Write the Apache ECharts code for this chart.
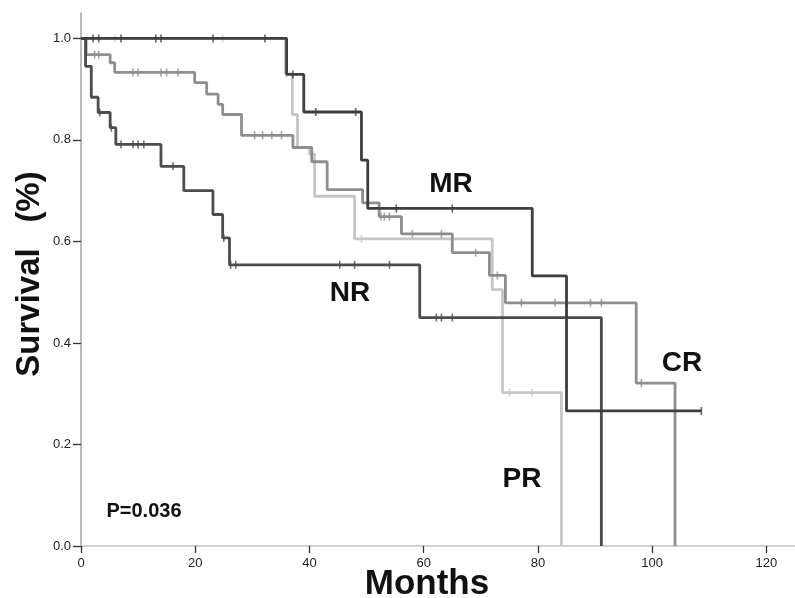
<!DOCTYPE html>
<html><head><meta charset="utf-8">
<script src="https://cdn.jsdelivr.net/npm/echarts@6/dist/echarts.min.js"></script>
<style>html,body{margin:0;padding:0;background:#fff}#c{width:795px;height:598px}</style>
</head><body><div id="c"></div>
<script>
// ---- data ----
const xTicks = [0, 20, 40, 60, 80, 100, 120];
const yTicks = [0, 0.2, 0.4, 0.6, 0.8, 1.0];
const groupNames = ['PR', 'CR', 'NR', 'MR'];

// step curves: [month, survival]
const mrCurve = [[0,1.0],[36.0,0.929],[39.0,0.855],[49.1,0.760],[50.2,0.665],[79.0,0.532],[85.0,0.266],[108.6,0.266]];
const crCurve = [[0,1.0],[0.9,0.968],[5.1,0.952],[5.9,0.933],[19.9,0.913],[22.0,0.890],[24.0,0.870],[24.8,0.850],[28.1,0.809],[37.1,0.785],[40.4,0.757],[43.1,0.702],[49.3,0.676],[52.2,0.649],[56.1,0.615],[65.0,0.578],[71.5,0.533],[74.3,0.479],[97.2,0.321],[104.0,0]];
const prCurve = [[0,1.0],[35.8,0.930],[37.0,0.850],[37.9,0.785],[40.0,0.772],[40.9,0.689],[47.9,0.605],[72.0,0.505],[73.8,0.302],[84.1,0]];
const nrCurve = [[0,1.0],[0.8,0.945],[1.8,0.884],[3.0,0.854],[5.1,0.824],[6.1,0.791],[14.0,0.748],[18.0,0.700],[23.1,0.653],[24.8,0.607],[26.0,0.554],[59.3,0.450],[91.1,0]];

// censored times (months)
const mrCensor = [2.1, 3.1, 7.0, 13.1, 14.0, 23.1, 32.2, 37.1, 41.1, 48.1, 55.2, 65.0, 108.6];
const crCensor = [2.4, 3.1, 9.1, 10.0, 14.0, 15.0, 17.0, 30.4, 31.8, 33.4, 35.1, 52.5, 53.1, 54.0, 58.0, 63.1, 69.1, 72.9, 77.1, 83.0, 89.2, 91.1, 98.1];
const prCensor = [5.9, 24.8, 36.0, 49.1, 75.0, 79.0];
const nrCensor = [3.3, 5.3, 7.0, 9.1, 10.0, 11.0, 16.1, 25.0, 26.2, 27.1, 45.3, 47.9, 54.0, 62.2, 63.1, 65.0];

// ---- helpers ----
function valueAt(curve, t) {
  let v = curve[0][1];
  for (const p of curve) { if (p[0] <= t) v = p[1]; else break; }
  return v;
}
const curves = {MR: mrCurve, CR: crCurve, PR: prCurve, NR: nrCurve};
const censors = {MR: mrCensor, CR: crCensor, PR: prCensor, NR: nrCensor};
const colors = {MR: '#3e3e3e', CR: '#8e8e8e', PR: '#c6c6c6', NR: '#4c4c4c'};

const series = [];
groupNames.forEach((g, i) => {
  series.push({
    name: g, type: 'line', step: 'end', data: curves[g], symbol: 'none',
    lineStyle: {color: colors[g], width: 2.8}, z: 2 + i * 2, silent: true
  });
  series.push({
    name: g + ' censored', type: 'scatter',
    data: censors[g].map(t => [t, valueAt(curves[g], t)]),
    symbol: 'rect', symbolSize: [1.6, 8],
    itemStyle: {color: colors[g]}, z: 3 + i * 2, silent: true
  });
});

const font = 'Liberation Sans, Arial, Helvetica, sans-serif';
const chart = echarts.init(document.getElementById('c'));
chart.setOption({
  animation: false,
  backgroundColor: '#fff',
  grid: {left: 81, right: 0, top: 13, bottom: 52},
  xAxis: {
    type: 'value', min: 0, max: 125,
    axisLine: {show: true, lineStyle: {color: '#c4c4c4', width: 1.5}},
    axisTick: {show: true, customValues: xTicks, length: 7, lineStyle: {color: '#333', width: 1.3}},
    axisLabel: {customValues: xTicks, fontSize: 13, color: '#222', margin: 11, fontFamily: font},
    splitLine: {show: false}
  },
  yAxis: {
    type: 'value', min: 0, max: 1.05,
    axisLine: {show: true, lineStyle: {color: '#a6a6a6', width: 1.5}},
    axisTick: {show: true, customValues: yTicks, length: 8, lineStyle: {color: '#333', width: 1.3}},
    axisLabel: {customValues: yTicks, fontSize: 13, color: '#222', margin: 10, fontFamily: font,
      formatter: v => v.toFixed(1)},
    splitLine: {show: false}
  },
  graphic: [
    {type: 'text', x: 30, y: 274, rotation: Math.PI / 2,
      style: {text: 'Survival\u2002 (%)', fontSize: 33, fontWeight: 'bold', fontFamily: font, fill: '#111', align: 'center', verticalAlign: 'middle'}},
    {type: 'text', x: 427, y: 584,
      style: {text: 'Months', fontSize: 35, fontWeight: 'bold', fontFamily: font, fill: '#111', align: 'center', verticalAlign: 'middle'}},
    {type: 'text', x: 451, y: 184,
      style: {text: 'MR', fontSize: 28, fontWeight: 'bold', fontFamily: font, fill: '#111', align: 'center', verticalAlign: 'middle'}},
    {type: 'text', x: 682, y: 363,
      style: {text: 'CR', fontSize: 28, fontWeight: 'bold', fontFamily: font, fill: '#111', align: 'center', verticalAlign: 'middle'}},
    {type: 'text', x: 522, y: 479,
      style: {text: 'PR', fontSize: 28, fontWeight: 'bold', fontFamily: font, fill: '#111', align: 'center', verticalAlign: 'middle'}},
    {type: 'text', x: 350, y: 293,
      style: {text: 'NR', fontSize: 28, fontWeight: 'bold', fontFamily: font, fill: '#111', align: 'center', verticalAlign: 'middle'}},
    {type: 'text', x: 144, y: 511,
      style: {text: 'P=0.036', fontSize: 20, fontWeight: 'bold', fontFamily: font, fill: '#111', align: 'center', verticalAlign: 'middle'}}
  ],
  series: series
});
</script>
</body></html>
